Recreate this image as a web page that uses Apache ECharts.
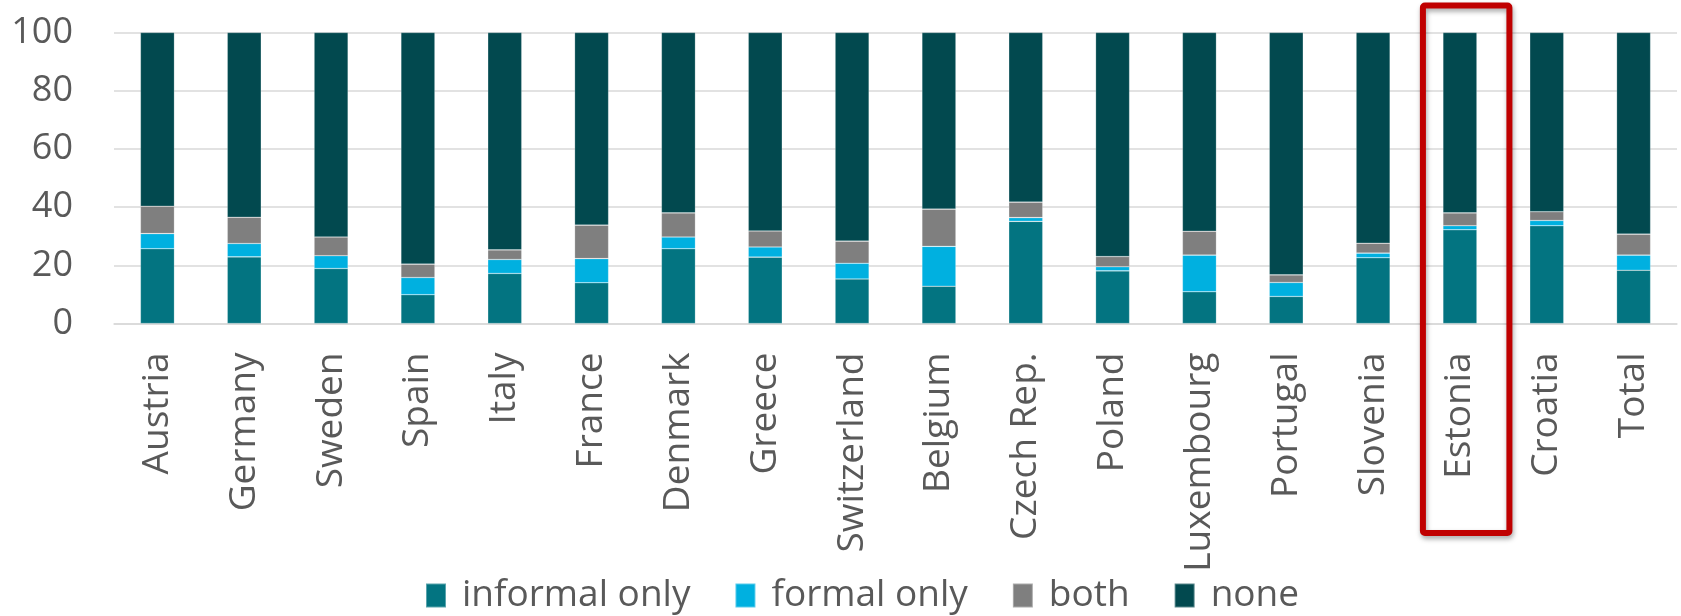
<!DOCTYPE html>
<html>
<head>
<meta charset="utf-8">
<script src="https://cdn.jsdelivr.net/npm/echarts/dist/echarts.min.js"></script>
<style>
  html, body { margin: 0; padding: 0; background: #ffffff; }
  #chart { width: 1681px; height: 616px; }
</style>
</head>
<body>
<div id="chart"></div>
<script>
// Countries along the category axis
const countries = ['Austria', 'Germany', 'Sweden', 'Spain', 'Italy', 'France', 'Denmark', 'Greece',
  'Switzerland', 'Belgium', 'Czech Rep.', 'Poland', 'Luxembourg', 'Portugal', 'Slovenia',
  'Estonia', 'Croatia', 'Total'];

// Share of respondents (%) by type of care received
const informalOnly = [25.7, 22.9, 18.9, 9.9, 17.2, 14.0, 25.7, 22.8, 15.3, 12.8, 35.1, 18.1, 10.9, 9.3, 22.6, 32.2, 33.6, 18.3];
const formalOnly   = [5.2, 4.6, 4.4, 5.9, 4.8, 8.3, 4.0, 3.5, 5.4, 13.7, 1.3, 1.4, 12.6, 4.8, 1.6, 1.4, 1.8, 5.2];
const both         = [9.4, 9.0, 6.4, 4.6, 3.3, 11.5, 8.3, 5.5, 7.6, 12.8, 5.3, 3.5, 8.2, 2.6, 3.4, 4.4, 3.0, 7.2];
const none         = [59.7, 63.5, 70.3, 79.6, 74.7, 66.2, 62.0, 68.2, 71.7, 60.7, 58.3, 77.0, 68.3, 83.3, 72.4, 62.0, 61.6, 69.3];

// Value axis ticks
const yTicks = [0, 20, 40, 60, 80, 100];

// Category to outline
const highlighted = 'Estonia';

const FONT = '"Open Sans", "Noto Sans", sans-serif';
const TEXT = '#595959';

const chart = echarts.init(document.getElementById('chart'), null, { renderer: 'canvas' });

function stackSeries(name, data, color) {
  return {
    name: name,
    type: 'bar',
    stack: 'care',
    data: data,
    barWidth: 34,
    itemStyle: { color: color, borderColor: 'rgba(255,255,255,0.35)', borderWidth: 0.6 },
    emphasis: { disabled: true }
  };
}

chart.setOption({
  animation: false,
  backgroundColor: '#ffffff',
  grid: { left: 114, right: 4, top: 32.5, height: 291, containLabel: false },
  legend: {
    left: 425,
    top: 577,
    padding: 0,
    itemWidth: 20,
    itemHeight: 24,
    itemGap: 44,
    icon: 'rect',
    textStyle: { fontFamily: FONT, fontSize: 37, color: TEXT, padding: [0, 0, 0, 11] },
    data: ['informal only', 'formal only', 'both', 'none']
  },
  xAxis: {
    type: 'category',
    data: countries,
    axisLine: { show: true, lineStyle: { color: '#D9D9D9', width: 1.5 } },
    axisTick: { show: false },
    axisLabel: {
      rotate: 90,
      interval: 0,
      margin: 29,
      fontFamily: FONT,
      fontSize: 37,
      color: TEXT
    }
  },
  yAxis: {
    type: 'value',
    min: yTicks[0],
    max: yTicks[yTicks.length - 1],
    interval: yTicks[1] - yTicks[0],
    axisLine: { show: false },
    axisTick: { show: false },
    splitLine: { lineStyle: { color: '#D9D9D9', width: 1.5 } },
    axisLabel: { margin: 41, fontFamily: FONT, fontSize: 36, color: TEXT }
  },
  series: [
    stackSeries('informal only', informalOnly, '#037481'),
    stackSeries('formal only', formalOnly, '#00B0E0'),
    stackSeries('both', both, '#7F7F7F'),
    stackSeries('none', none, '#02494F')
  ]
});

// Red outline around the highlighted country's column and label
const cx = chart.convertToPixel({ xAxisIndex: 0 }, highlighted);
chart.setOption({
  graphic: [{
    type: 'rect',
    shape: { x: cx - 37, y: 5.5, width: 86.5, height: 527.5, r: 2 },
    style: {
      fill: 'none',
      stroke: '#C00000',
      lineWidth: 6,
      shadowBlur: 5,
      shadowColor: 'rgba(0,0,0,0.35)',
      shadowOffsetX: 1,
      shadowOffsetY: 3
    },
    z: 100
  }]
});
</script>
</body>
</html>
